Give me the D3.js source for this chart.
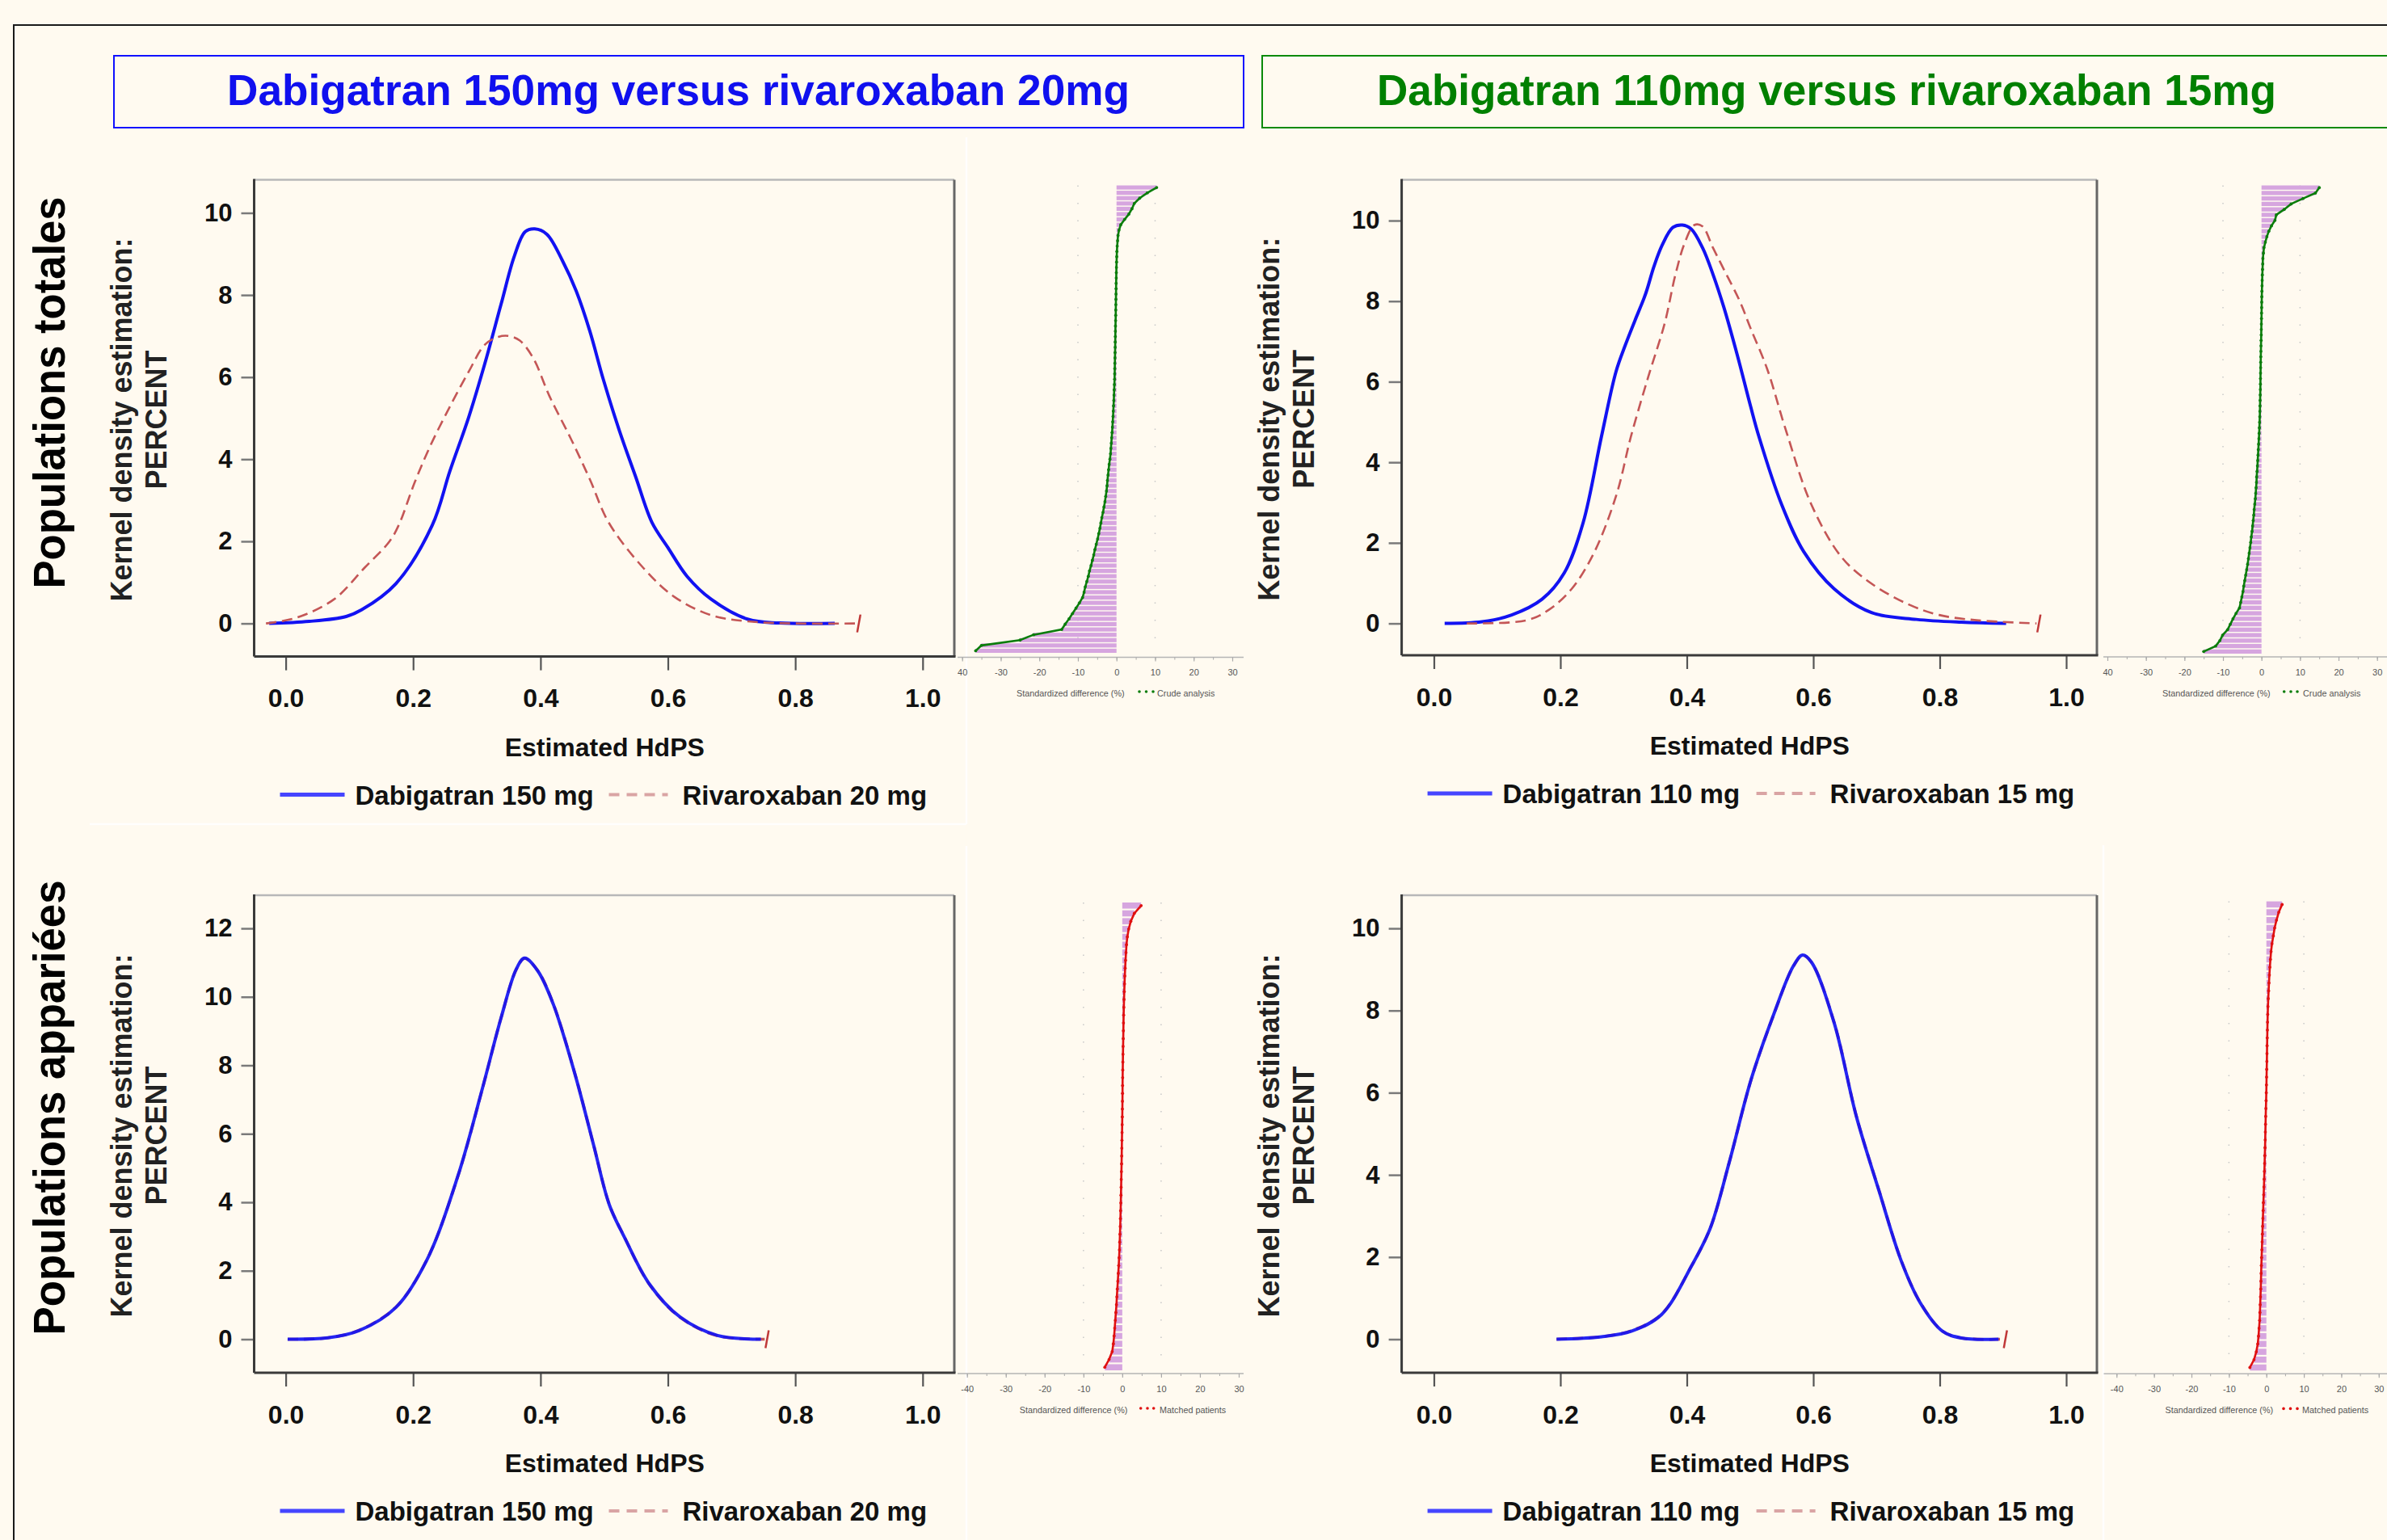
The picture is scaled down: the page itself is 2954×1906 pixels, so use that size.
<!DOCTYPE html>
<html><head><meta charset="utf-8">
<script src="https://cdn.jsdelivr.net/npm/d3@7"></script>
<style>html,body{margin:0;padding:0;background:#fffaf0;} svg{display:block}</style>
</head><body>
<svg id="c" width="2954" height="1906"></svg>
<script>
// ---------------- DATA ----------------
const columnTitles = ["Dabigatran 150mg versus rivaroxaban 20mg", "Dabigatran 110mg versus rivaroxaban 15mg"];
const rowTitles = ["Populations totales", "Populations appariées"];
const legendLeft = ["Dabigatran 150 mg", "Rivaroxaban 20 mg"];
const legendRight = ["Dabigatran 110 mg", "Rivaroxaban 15 mg"];
const xAxisTitle = "Estimated HdPS";
const yAxisTitle = ["Kernel density estimation:", "PERCENT"];
const xTicks = [0, 0.2, 0.4, 0.6, 0.8, 1.0];
const yTicksTopLeft = [0, 2, 4, 6, 8, 10];
const yTicksTopRight = [0, 2, 4, 6, 8, 10];
const yTicksBottomLeft = [0, 2, 4, 6, 8, 10, 12];
const yTicksBottomRight = [0, 2, 4, 6, 8, 10];
const stripTicks = [-40, -30, -20, -10, 0, 10, 20, 30];
const stripMinorTicks = [-40, -35, -30, -25, -20, -15, -10, -5, 0, 5, 10, 15, 20, 25, 30];
const stripTickLabelsTop = ["40", "-30", "-20", "-10", "0", "10", "20", "30"];
const stripTickLabelsBottom = ["-40", "-30", "-20", "-10", "0", "10", "20", "30"];
const stripGrid = [-10, 10];
const stripAxisTitle = "Standardized difference (%)";
const stripLegendTop = "Crude analysis";
const stripLegendBottom = "Matched patients";

// kernel density curves: [estimated HdPS, percent]
const dab150Total = [[-0.026,0],[0.037,0.05],[0.095,0.17],[0.119,0.33],[0.173,0.97],[0.23,2.39],[0.2577,3.71],[0.2872,5.02],[0.3126,6.33],[0.338,7.77],[0.359,8.95],[0.376,9.54],[0.391,9.61],[0.41,9.48],[0.435,8.82],[0.456,8.1],[0.4775,7.12],[0.4987,5.94],[0.524,4.69],[0.5495,3.57],[0.575,2.46],[0.6,1.85],[0.63,1.15],[0.668,0.59],[0.726,0.1],[0.775,0.01],[0.862,0]];
const riv20Total = [[-0.031,0],[0.017,0.14],[0.076,0.59],[0.124,1.36],[0.163,2.0],[0.1773,2.39],[0.2026,3.44],[0.228,4.36],[0.2577,5.28],[0.2872,6.13],[0.3126,6.79],[0.3338,6.98],[0.3507,7.0],[0.3676,6.89],[0.3887,6.46],[0.414,5.54],[0.448,4.49],[0.4775,3.51],[0.507,2.46],[0.561,1.36],[0.61,0.65],[0.668,0.2],[0.726,0.05],[0.8,0.0],[0.896,0]];
const dab110Total = [[0.017,0],[0.076,0.04],[0.123,0.21],[0.171,0.6],[0.206,1.25],[0.236,2.5],[0.265,4.64],[0.288,6.25],[0.303,6.92],[0.318,7.52],[0.335,8.19],[0.348,8.86],[0.361,9.39],[0.378,9.83],[0.393,9.89],[0.407,9.79],[0.425,9.32],[0.4415,8.66],[0.4585,7.85],[0.48,6.65],[0.501,5.38],[0.514,4.64],[0.55,2.95],[0.585,1.78],[0.633,0.86],[0.692,0.27],[0.763,0.1],[0.834,0.03],[0.905,0]];
const riv15Total = [[0.052,0],[0.147,0.08],[0.182,0.34],[0.218,0.86],[0.254,1.78],[0.289,3.21],[0.3116,4.64],[0.339,6.12],[0.365,7.45],[0.382,8.66],[0.397,9.46],[0.412,9.89],[0.4245,9.86],[0.4415,9.32],[0.4585,8.79],[0.484,7.99],[0.501,7.32],[0.527,6.32],[0.557,4.78],[0.597,2.95],[0.645,1.64],[0.692,0.99],[0.751,0.47],[0.799,0.21],[0.858,0.08],[0.953,0]];
const dab150Matched = [[0.003,0],[0.066,0.04],[0.115,0.25],[0.173,0.93],[0.221,2.29],[0.27,4.75],[0.309,7.34],[0.338,9.38],[0.362,10.81],[0.375,11.13],[0.396,10.75],[0.42,9.79],[0.454,7.75],[0.483,5.7],[0.508,3.93],[0.532,2.97],[0.571,1.61],[0.619,0.65],[0.678,0.11],[0.746,0]];
const riv20Matched = [[0.003,0],[0.066,0.04],[0.115,0.26],[0.173,0.94],[0.221,2.3],[0.27,4.74],[0.309,7.33],[0.338,9.38],[0.362,10.8],[0.375,11.12],[0.396,10.76],[0.42,9.8],[0.454,7.76],[0.483,5.7],[0.508,3.94],[0.532,2.98],[0.571,1.6],[0.619,0.64],[0.678,0.1],[0.752,0]];
const dab110Matched = [[0.194,0],[0.265,0.06],[0.313,0.2],[0.36,0.6],[0.408,1.8],[0.437,2.7],[0.467,4.3],[0.502,6.34],[0.538,7.93],[0.568,9.07],[0.583,9.35],[0.597,9.18],[0.633,7.7],[0.668,5.43],[0.704,3.61],[0.739,1.91],[0.769,0.89],[0.804,0.2],[0.834,0.03],[0.893,0]];
const riv15Matched = [[0.194,0],[0.265,0.06],[0.313,0.21],[0.36,0.61],[0.408,1.8],[0.437,2.7],[0.467,4.3],[0.502,6.33],[0.538,7.92],[0.568,9.06],[0.583,9.34],[0.597,9.18],[0.633,7.71],[0.668,5.44],[0.704,3.62],[0.739,1.92],[0.769,0.9],[0.804,0.2],[0.834,0.03],[0.9,0]];

// standardized differences (%), sorted from the bottom row to the top row
const stdDiffCrude150 = [-36.5,-35,-25,-21.5,-14.2,-13.3,-12.3,-11.4,-10.5,-9.6,-8.8,-8.4,-8.1,-7.7,-7.3,-7.0,-6.6,-6.25,-5.9,-5.6,-5.25,-4.9,-4.6,-4.3,-4.05,-3.8,-3.5,-3.25,-3.0,-2.8,-2.6,-2.45,-2.35,-2.2,-2.05,-1.9,-1.7,-1.55,-1.45,-1.35,-1.25,-1.15,-1.05,-0.98,-0.9,-0.83,-0.77,-0.7,-0.65,-0.6,-0.55,-0.5,-0.48,-0.45,-0.43,-0.4,-0.38,-0.35,-0.33,-0.31,-0.29,-0.27,-0.23,-0.2,-0.19,-0.17,-0.15,-0.13,-0.11,-0.1,-0.07,-0.05,-0.02,0.02,0.06,0.1,0.18,0.28,0.4,0.65,1.1,2.1,3.2,4.0,4.6,6.0,8.0,10.4];
const stdDiffCrude110 = [-15.0,-11.9,-10.8,-10.1,-8.8,-8.1,-7.4,-6.6,-5.7,-5.4,-5.1,-4.8,-4.6,-4.35,-4.1,-3.85,-3.6,-3.4,-3.2,-3.0,-2.8,-2.65,-2.45,-2.3,-2.15,-2.0,-1.9,-1.75,-1.6,-1.5,-1.4,-1.3,-1.25,-1.15,-1.05,-0.98,-0.9,-0.82,-0.75,-0.68,-0.6,-0.55,-0.5,-0.44,-0.41,-0.38,-0.36,-0.33,-0.3,-0.28,-0.27,-0.25,-0.22,-0.2,-0.18,-0.15,-0.13,-0.1,-0.07,-0.05,-0.03,0.0,0.02,0.04,0.06,0.08,0.11,0.14,0.18,0.22,0.27,0.32,0.36,0.5,0.65,1.0,1.4,1.9,2.6,3.5,3.85,5.9,7.7,10.8,14.0,15.0];
const stdDiffMatched150 = [-4.5,-3.4,-2.6,-2.3,-2.1,-1.95,-1.8,-1.65,-1.5,-1.4,-1.27,-1.15,-1.03,-0.92,-0.82,-0.73,-0.66,-0.6,-0.53,-0.48,-0.43,-0.38,-0.34,-0.3,-0.26,-0.22,-0.18,-0.15,-0.12,-0.09,-0.06,-0.03,0.0,0.02,0.04,0.06,0.07,0.09,0.12,0.15,0.18,0.21,0.25,0.28,0.31,0.35,0.4,0.45,0.51,0.58,0.65,0.74,0.84,0.96,1.08,1.3,1.65,2.2,3.1,4.85];
const stdDiffMatched110 = [-4.4,-3.3,-2.7,-2.3,-2.1,-1.95,-1.8,-1.72,-1.65,-1.58,-1.5,-1.45,-1.4,-1.34,-1.27,-1.2,-1.13,-1.06,-1.0,-0.93,-0.86,-0.8,-0.72,-0.65,-0.59,-0.53,-0.47,-0.42,-0.36,-0.31,-0.27,-0.22,-0.18,-0.13,-0.07,-0.02,0.02,0.05,0.09,0.13,0.16,0.19,0.23,0.27,0.31,0.36,0.42,0.5,0.6,0.7,0.8,0.93,1.08,1.25,1.5,1.85,2.2,2.7,3.3,4.2];

// ---------------- LAYOUT / STYLE ----------------
const BG = "#fffaf0";
const FONT = "'Liberation Sans', Arial, Helvetica, sans-serif";
const BLUE = "#1212f2";
const RED = "#c45656";

const panels = [
  {frame:{x0:314.5,y0:222.5,x1:1181,y1:812.6}, xr:[353.6,1141.8], yr:[771.6,263.5],
   yTicks:yTicksTopLeft, blue:dab150Total, red:riv20Total, blueOnTop:false, legend:legendLeft},
  {frame:{x0:1734.6,y0:222.5,x1:2595,y1:811}, xr:[1774.5,2557], yr:[771.6,273],
   yTicks:yTicksTopRight, blue:dab110Total, red:riv15Total, blueOnTop:false, legend:legendRight},
  {frame:{x0:314.5,y0:1108,x1:1181,y1:1699}, xr:[353.6,1141.8], yr:[1657.5,1149],
   yTicks:yTicksBottomLeft, blue:dab150Matched, red:riv20Matched, blueOnTop:true, legend:legendLeft},
  {frame:{x0:1734.6,y0:1108,x1:2595,y1:1699}, xr:[1774.5,2557], yr:[1657.5,1149],
   yTicks:yTicksBottomRight, blue:dab110Matched, red:riv15Matched, blueOnTop:true, legend:legendRight}
];

const strips = [
  {data:stdDiffCrude150, color:"#0b7d0b", xr:[1190.7,1525], rows:[229.5,808], axisY:813.6, axisX:[1185,1539],
   labels:stripTickLabelsTop, legend:stripLegendTop, titleX:1258, titleY:858, dotsX:[1410,1418.5,1427], legendX:1432},
  {data:stdDiffCrude110, color:"#0b7d0b", xr:[2608,2941.7], rows:[229.5,809], axisY:813, axisX:[2603,2954],
   labels:stripTickLabelsTop, legend:stripLegendTop, titleX:2676, titleY:858, dotsX:[2826.7,2835,2843], legendX:2850},
  {data:stdDiffMatched150, color:"#e01010", xr:[1196.7,1533], rows:[1117,1696], axisY:1700, axisX:[1185,1539],
   labels:stripTickLabelsBottom, legend:stripLegendBottom, titleX:1261.7, titleY:1745, dotsX:[1411.7,1420,1427.7], legendX:1435},
  {data:stdDiffMatched110, color:"#e01010", xr:[2619.3,2943.8], rows:[1115.6,1696.3], axisY:1700.3, axisX:[2603.5,2954],
   labels:stripTickLabelsBottom, legend:stripLegendBottom, titleX:2679.5, titleY:1745.4, dotsX:[2826,2834.5,2843], legendX:2849}
];

// ---------------- DRAW ----------------
const svg = d3.select("#c");
svg.append("rect").attr("width", 2954).attr("height", 1906).attr("fill", BG);

// faint edges of pasted images
const faint = svg.append("g").attr("stroke", "#ffffff").attr("stroke-width", 2.5).attr("opacity", 0.9);
faint.append("line").attr("x1",1196).attr("y1",170).attr("x2",1196).attr("y2",1020);
faint.append("line").attr("x1",111).attr("y1",1020).attr("x2",1196).attr("y2",1020);
faint.append("line").attr("x1",1196).attr("y1",1047).attr("x2",1196).attr("y2",1906);
faint.append("line").attr("x1",2603).attr("y1",1046).attr("x2",2603).attr("y2",1906);

// outer frame
svg.append("path").attr("d","M17,1906V31H2954").attr("fill","none").attr("stroke","#1a1a1a").attr("stroke-width",2);

// column title boxes
const titleBoxes = [
  {x:141, w:1398, cx:839.5, color:"#1010ff", text:columnTitles[0], tl:1117, tc:"#1010ee"},
  {x:1562, w:1400, cx:2260.5, color:"#0a8a0a", text:columnTitles[1], tl:1113, tc:"#008000"}
];
titleBoxes.forEach(b => {
  svg.append("rect").attr("x", b.x).attr("y", 69).attr("width", b.w).attr("height", 89)
    .attr("fill","none").attr("stroke", b.color).attr("stroke-width", 2);
  svg.append("text").attr("x", b.cx).attr("y", 130)
    .attr("text-anchor","middle").attr("font-family", FONT).attr("font-weight","bold")
    .attr("font-size", 54).attr("fill", b.tc)
    .attr("textLength", b.tl).attr("lengthAdjust","spacingAndGlyphs").text(b.text);
});

// row titles
[{cy:486, len:485, t:rowTitles[0]}, {cy:1371, len:563, t:rowTitles[1]}].forEach(r => {
  svg.append("text").attr("transform", `translate(80,${r.cy}) rotate(-90)`)
    .attr("text-anchor","middle").attr("font-family", FONT).attr("font-weight","bold")
    .attr("font-size", 55).attr("fill","#000")
    .attr("textLength", r.len).attr("lengthAdjust","spacingAndGlyphs").text(r.t);
});

function drawPanel(p) {
  const g = svg.append("g");
  const f = p.frame;
  const x = d3.scaleLinear().domain([0, 1]).range(p.xr);
  const ys = d3.scaleLinear().domain([0, d3.max(p.yTicks)]).range(p.yr);

  // y axis
  const ay = g.append("g").attr("transform", `translate(${f.x0},0)`)
    .call(d3.axisLeft(ys).tickValues(p.yTicks).tickSize(16).tickPadding(11).tickFormat(d3.format("d")));
  ay.select(".domain").remove();
  ay.selectAll("line").attr("stroke", "#7a7a7a").attr("stroke-width", 2.5);
  ay.selectAll("text").attr("font-family", FONT).attr("font-weight","bold").attr("font-size", 31).attr("fill","#111");

  // x axis
  const ax = g.append("g").attr("transform", `translate(0,${f.y1})`)
    .call(d3.axisBottom(x).tickValues(xTicks).tickSize(17).tickPadding(23).tickFormat(d3.format(".1f")));
  ax.select(".domain").remove();
  ax.selectAll("line").attr("stroke", "#555").attr("stroke-width", 2.2);
  ax.selectAll("text").attr("font-family", FONT).attr("font-weight","bold").attr("font-size", 32).attr("fill","#111");

  // frame
  g.append("line").attr("x1",f.x0).attr("y1",f.y0).attr("x2",f.x1).attr("y2",f.y0).attr("stroke","#b8b8b8").attr("stroke-width",2.5);
  g.append("line").attr("x1",f.x1).attr("y1",f.y0).attr("x2",f.x1).attr("y2",f.y1).attr("stroke","#666").attr("stroke-width",3);
  g.append("line").attr("x1",f.x0).attr("y1",f.y0-1).attr("x2",f.x0).attr("y2",f.y1).attr("stroke","#3a3a3a").attr("stroke-width",3);
  g.append("line").attr("x1",f.x0).attr("y1",f.y1).attr("x2",f.x1+1.5).attr("y2",f.y1).attr("stroke","#3a3a3a").attr("stroke-width",3);

  const line = d3.line().x(d => x(d[0])).y(d => ys(d[1])).curve(d3.curveCatmullRom.alpha(0.5));
  const drawBlue = () => g.append("path").datum(p.blue).attr("d", line).attr("fill","none")
      .attr("stroke", BLUE).attr("stroke-width", 4).attr("stroke-linejoin","round").attr("opacity", p.blueOnTop ? 0.92 : 1);
  const drawRed = () => g.append("path").datum(p.red).attr("d", line).attr("fill","none")
      .attr("stroke", RED).attr("stroke-width", p.blueOnTop ? 3.5 : 2.6).attr("stroke-dasharray", "13,7");
  if (p.blueOnTop) { drawRed(); drawBlue(); } else { drawBlue(); drawRed(); }
  // end marker of the dashed curve
  const last = p.red[p.red.length - 1];
  g.append("path").attr("d", `M${x(last[0]) + 1},${ys(last[1]) + 11}L${x(last[0]) + 5},${ys(last[1]) - 11}`)
    .attr("stroke", "#c03838").attr("stroke-width", 2.5).attr("fill","none");

  // x axis title
  g.append("text").attr("x", (f.x0 + f.x1) / 2 + 0.5).attr("y", f.y1 + 123).attr("text-anchor","middle")
    .attr("font-family", FONT).attr("font-weight","bold").attr("font-size", 32).attr("fill","#111").text(xAxisTitle);

  // y axis title
  const cy = (f.y0 + f.y1) / 2 + 2;
  g.append("text").attr("transform", `translate(${f.x0 - 152},${cy}) rotate(-90)`).attr("text-anchor","middle")
    .attr("font-family", FONT).attr("font-weight","bold").attr("font-size", 36).attr("fill","#222").text(yAxisTitle[0]);
  g.append("text").attr("transform", `translate(${f.x0 - 108.5},${cy}) rotate(-90)`).attr("text-anchor","middle")
    .attr("font-family", FONT).attr("font-weight","bold").attr("font-size", 36).attr("fill","#222").text(yAxisTitle[1]);

  // legend
  const ly = f.y1 + 171;
  g.append("line").attr("x1", f.x0 + 32).attr("x2", f.x0 + 112).attr("y1", ly).attr("y2", ly)
    .attr("stroke", "#4545ff").attr("stroke-width", 5);
  g.append("text").attr("x", f.x0 + 125).attr("y", ly + 12).attr("font-family", FONT).attr("font-weight","bold")
    .attr("font-size", 33).attr("fill","#111").text(p.legend[0]);
  g.append("line").attr("x1", f.x0 + 439).attr("x2", f.x0 + 512).attr("y1", ly).attr("y2", ly)
    .attr("stroke", "#d9a4a4").attr("stroke-width", 4).attr("stroke-dasharray", "13,9");
  g.append("text").attr("x", f.x0 + 530).attr("y", ly + 12).attr("font-family", FONT).attr("font-weight","bold")
    .attr("font-size", 33).attr("fill","#111").text(p.legend[1]);
}

function drawStrip(s) {
  const g = svg.append("g");
  const x = d3.scaleLinear().domain([-40, 30]).range(s.xr);
  const idx = d3.range(s.data.length);
  const y = d3.scaleBand().domain(idx).range([s.rows[1], s.rows[0]]).paddingInner(0.22);
  const bw = y.bandwidth();

  // grid
  g.selectAll(".grid").data(stripGrid).enter().append("line")
    .attr("x1", d => x(d)).attr("x2", d => x(d)).attr("y1", s.rows[0]).attr("y2", s.rows[1])
    .attr("stroke", "#c8c8c8").attr("stroke-width", 1.5).attr("stroke-dasharray", "1.5,20");

  // bars
  g.selectAll(".bar").data(s.data).enter().append("rect")
    .attr("x", d => Math.min(x(0), x(d))).attr("width", d => Math.abs(x(d) - x(0)))
    .attr("y", (d, i) => y(i)).attr("height", bw).attr("fill", "#d6a5df");

  // line + points
  const ln = d3.line().x(d => x(d)).y((d, i) => y(i) + bw / 2);
  g.append("path").datum(s.data).attr("d", ln).attr("fill","none").attr("stroke", s.color).attr("stroke-width", 2.6);
  g.selectAll(".pt").data(s.data).enter().append("circle")
    .attr("cx", d => x(d)).attr("cy", (d, i) => y(i) + bw / 2).attr("r", 1.9).attr("fill", s.color);

  // axis
  g.append("line").attr("x1", s.axisX[0]).attr("x2", s.axisX[1]).attr("y1", s.axisY).attr("y2", s.axisY)
    .attr("stroke", "#b5b5b5").attr("stroke-width", 1.5);
  const minor = g.append("g").attr("transform", `translate(0,${s.axisY})`)
    .call(d3.axisBottom(x).tickValues(stripMinorTicks).tickSize(3).tickFormat(""));
  minor.select(".domain").remove();
  minor.selectAll("line").attr("stroke", "#aaa").attr("stroke-width", 1);
  const major = g.append("g").attr("transform", `translate(0,${s.axisY})`)
    .call(d3.axisBottom(x).tickValues(stripTicks).tickSize(5).tickPadding(10)
      .tickFormat((d, i) => s.labels[i]));
  major.select(".domain").remove();
  major.selectAll("line").attr("stroke", "#aaa").attr("stroke-width", 1.2);
  major.selectAll("text").attr("font-family", FONT).attr("font-size", 11).attr("fill", "#555");

  // axis title + legend
  g.append("text").attr("x", s.titleX).attr("y", s.titleY + 4).attr("font-family", FONT).attr("font-size", 10.8)
    .attr("fill", "#555").text(stripAxisTitle);
  g.selectAll(".ld").data(s.dotsX).enter().append("circle")
    .attr("cx", d => d).attr("cy", s.titleY - 2).attr("r", 1.8).attr("fill", s.color);
  g.append("text").attr("x", s.legendX).attr("y", s.titleY + 4).attr("font-family", FONT).attr("font-size", 10.8)
    .attr("fill", "#555").text(s.legend);
}

panels.forEach(drawPanel);
strips.forEach(drawStrip);
</script>
</body></html>
